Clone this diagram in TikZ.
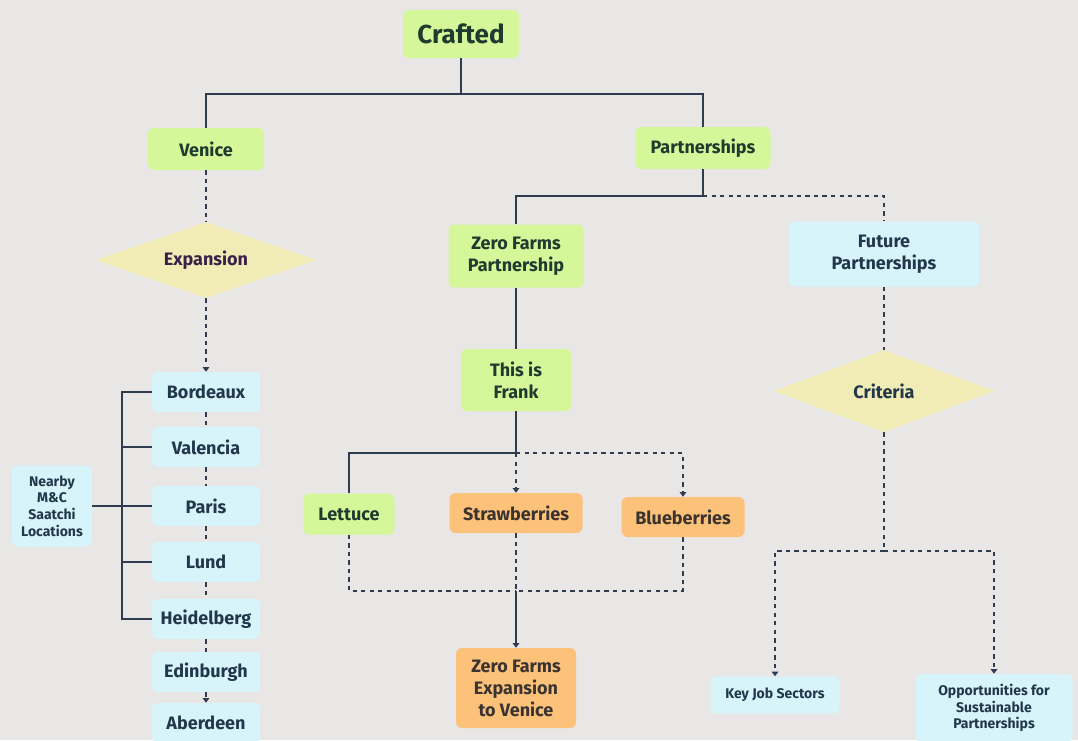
\documentclass[tikz,border=0pt]{standalone}
\usepackage{fontspec}
\setmainfont{Fira Sans}
\usetikzlibrary{shapes.geometric,arrows.meta}

\definecolor{bgcol}{HTML}{E8E7E5}
\definecolor{greenfill}{HTML}{D5F79A}
\definecolor{bluefill}{HTML}{D7F4FB}
\definecolor{orangefill}{HTML}{FCC27A}
\definecolor{diafill}{HTML}{F1ECB5}
\definecolor{linecol}{HTML}{2F3C4F}
\definecolor{inkgreen}{HTML}{1F3A2E}
\definecolor{inkblue}{HTML}{22374B}
\definecolor{inkbrown}{HTML}{3A3330}
\definecolor{inkpurple}{HTML}{3A2048}

\tikzset{
  sz/.style 2 args={minimum width=#1*0.75pt, minimum height=#2*0.75pt},
  box/.style={rounded corners=4.5pt, inner sep=0pt, align=center,
              font=\fontsize{13.5}{16.5}\selectfont\bfseries},
  greenbox/.style={box, fill=greenfill, text=inkgreen},
  bluebox/.style={box, fill=bluefill, text=inkblue},
  smallblue/.style={bluebox, font=\fontsize{10.5}{12.5}\selectfont\bfseries},
  orangebox/.style={box, fill=orangefill, text=inkbrown},
  decision/.style={diamond, aspect=2.8, inner sep=0pt, fill=diafill,
              font=\fontsize{13.5}{16.5}\selectfont\bfseries},
  link/.style={draw=linecol, line width=1.2pt},
  dlink/.style={link, line width=1.1pt, dash pattern=on 3.2pt off 3.2pt},
  tip/.style={-{Triangle[width=5pt,length=3.5pt]}}
}

\begin{document}
\begin{tikzpicture}[x=0.75pt, y=-0.75pt]
  % canvas
  \fill[bgcol] (0,0) rectangle (1078,740);
  \useasboundingbox (0,0) rectangle (1078,740);

  % top levels
  \node[greenbox, sz={116}{48}, font=\fontsize{19.5}{22}\selectfont\bfseries] (crafted) at (461,34) {Crafted};
  \node[greenbox, sz={116}{42}] (venice) at (206,149) {Venice};
  \node[greenbox, sz={135}{42}] (partn) at (703,148) {Partnerships};

  % Venice branch
  \node[decision, sz={221}{76}, text=inkpurple] (expansion) at (206,260) {Expansion};
  \node[bluebox, sz={108}{40}] (bordeaux) at (206,392) {Bordeaux};
  \node[bluebox, sz={108}{40}] (valencia) at (206,447) {Valencia};
  \node[bluebox, sz={108}{40}] (paris) at (206,506) {Paris};
  \node[bluebox, sz={108}{40}] (lund) at (206,562) {Lund};
  \node[bluebox, sz={108}{40}] (heidelberg) at (206,619) {Heidelberg};
  \node[bluebox, sz={108}{40}] (edinburgh) at (206,672) {Edinburgh};
  \node[bluebox, sz={108}{40}] (aberdeen) at (206,723) {Aberdeen};
  \node[smallblue, sz={80}{81}] (nearby) at (52,506) {Nearby\\M\&C\\Saatchi\\Locations};

  % Partnerships branch
  \node[greenbox, sz={135}{63}] (zfp) at (516,256) {Zero Farms\\Partnership};
  \node[bluebox, sz={190}{65}] (future) at (884,254) {Future\\Partnerships};
  \node[greenbox, sz={110}{62}] (frank) at (516,380) {This is\\Frank};
  \node[greenbox, sz={91}{41}] (lettuce) at (349,514) {Lettuce};
  \node[orangebox, sz={133}{40}] (straw) at (516,513) {Strawberries};
  \node[orangebox, sz={123}{40}] (blue) at (683,517) {Blueberries};
  \node[orangebox, sz={120}{80}] (zfe) at (516,688) {Zero Farms\\Expansion\\to Venice};
  \node[decision, sz={221}{82}, text=inkblue] (criteria) at (884,391) {Criteria};
  \node[smallblue, sz={129}{37}] (keyjob) at (775,695) {Key Job Sectors};
  \node[smallblue, sz={157}{68}] (opport) at (994,708) {Opportunities for\\Sustainable\\Partnerships};

  % junction points
  \coordinate (jtop) at (461,94);
  \coordinate (jpart) at (703,196);
  \coordinate (jbr) at (122,506);
  \coordinate (jfrank) at (516,453);
  \coordinate (jfruit) at (516,591);
  \coordinate (jcrit) at (884,551);

  % Crafted tree
  \draw[link] (crafted.south) -- (jtop) -| (venice.north);
  \draw[link] (jtop) -| (partn.north);
  \draw[link] (partn.south) -- (jpart) -| (zfp.north);
  \draw[dlink] (jpart) -| (future.north);

  % Venice expansion chain
  \draw[dlink] (venice.south) -- (expansion.north);
  \draw[dlink, tip] (expansion.south) -- (bordeaux.north);
  \draw[dlink] (bordeaux.south) -- (valencia.north);
  \draw[dlink] (valencia.south) -- (paris.north);
  \draw[dlink] (paris.south) -- (lund.north);
  \draw[dlink] (lund.south) -- (heidelberg.north);
  \draw[dlink] (heidelberg.south) -- (edinburgh.north);
  \draw[dlink, tip] (edinburgh.south) -- (aberdeen.north);

  % bracket of nearby locations
  \draw[link] (nearby.east) -- (jbr);
  \draw[link] (bordeaux.west) -- (bordeaux.west -| jbr) -- (heidelberg.west -| jbr) -- (heidelberg.west);
  \draw[link] (valencia.west) -- (valencia.west -| jbr);
  \draw[link] (paris.west) -- (paris.west -| jbr);
  \draw[link] (lund.west) -- (lund.west -| jbr);

  % Zero Farms branch
  \draw[link] (zfp.south) -- (frank.north);
  \draw[link] (frank.south) -- (jfrank) -| (lettuce.north);
  \draw[dlink, tip] (jfrank) -- (straw.north);
  \draw[dlink, tip] (jfrank) -| (blue.north);
  \draw[dlink] (lettuce.south) |- (jfruit);
  \draw[dlink] (blue.south) |- (jfruit);
  \draw[dlink] (straw.south) -- (jfruit);
  \draw[link, tip] (jfruit) -- (zfe.north);

  % Future partnerships branch
  \draw[dlink] (future.south) -- (criteria.north);
  \draw[dlink] (criteria.south) -- (jcrit);
  \draw[dlink, tip] (jcrit) -| (keyjob.north);
  \draw[dlink, tip] (jcrit) -| (opport.north);
\end{tikzpicture}
\end{document}
